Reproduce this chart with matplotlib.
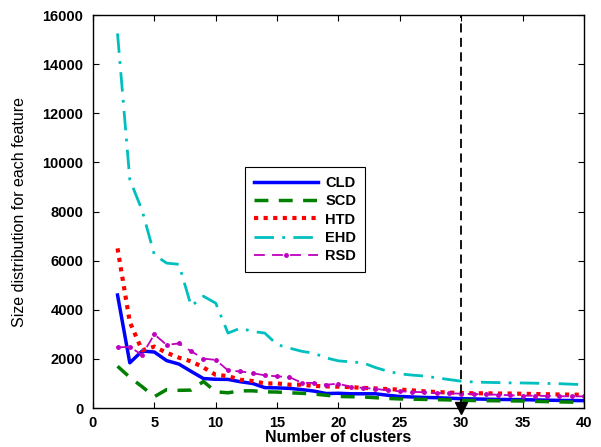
import numpy as np
import matplotlib
matplotlib.use("Agg")
import matplotlib.pyplot as plt

# number of clusters
clusters = list(range(2, 41))

cld = [4600, 1840, 2320, 2280, 1930, 1790, 1490, 1200, 1170, 1165, 1070, 1000, 830, 820,
       800, 750, 690, 590, 600, 580, 580, 580, 520, 470, 450, 430, 420, 400, 380, 370,
       360, 350, 345, 340, 330, 320, 310, 305, 300]
scd = [1700, 1250, 870, 460, 750, 720, 730, 1080, 660, 620, 700, 700, 660, 650,
       620, 600, 570, 520, 470, 460, 450, 420, 390, 370, 360, 350, 340, 330, 310, 305,
       300, 295, 290, 285, 270, 260, 250, 240, 230]
htd = [6500, 3500, 2350, 2500, 2250, 2050, 1900, 1650, 1350, 1300, 1150, 1100, 1000, 1000,
       950, 950, 900, 880, 870, 850, 820, 800, 770, 750, 720, 680, 650, 630, 610, 600,
       600, 590, 590, 580, 570, 560, 550, 545, 540]
ehd = [15250, 9300, 8050, 6240, 5900, 5850, 4150, 4550, 4270, 3050, 3250, 3120, 3050, 2580,
       2440, 2310, 2230, 2040, 1920, 1880, 1840, 1650, 1500, 1390, 1340, 1300, 1230, 1160, 1090, 1060,
       1045, 1035, 1025, 1020, 1010, 1000, 990, 970, 950]
rsd = [2470, 2490, 2160, 3000, 2570, 2630, 2310, 2010, 1960, 1530, 1490, 1420, 1330, 1290,
       1260, 1030, 1020, 950, 990, 860, 820, 780, 720, 680, 660, 640, 610, 600, 585, 570,
       560, 540, 520, 500, 500, 490, 480, 475, 475]

chosen_k = 30

xticks = list(range(0, 41, 5))
yticks = list(range(0, 16001, 2000))

sans = ["Liberation Sans", "DejaVu Sans"]
tick_font = dict(family=sans, weight="bold", size=10.5)

fig = plt.figure(figsize=(6.01, 4.47), dpi=100)
ax = fig.add_axes([0.1547, 0.0872, 0.817, 0.8792])

ax.plot(clusters, cld, color="#0000ff", lw=2.5, ls="-", label="CLD")
ax.plot(clusters, scd, color="#008000", lw=2.5, ls=(0, (4, 3)), label="SCD")
ax.plot(clusters, htd, color="#ff0000", lw=3, ls=(0, (1, 1.3)), label="HTD")
ax.plot(clusters, ehd, color="#00bfbf", lw=2, ls=(0, (7, 3, 1, 3)), label="EHD")
ax.plot(clusters, rsd, color="#bf00bf", lw=1.3, ls=(0, (6, 4)), marker=".",
        markersize=5, label="RSD")

ax.plot([chosen_k, chosen_k], [0, 16000], color="black", lw=1.3, ls=(0, (5, 3)))
ax.plot([chosen_k], [0], marker="v", color="black", markersize=9, clip_on=False, zorder=5)

ax.set_xlim(0, 40)
ax.set_ylim(0, 16000)
ax.set_xticks(xticks)
ax.set_yticks(yticks)
ax.set_xticklabels([str(t) for t in xticks], fontdict=tick_font)
ax.set_yticklabels([str(t) for t in yticks], fontdict=tick_font)
ax.tick_params(direction="in", top=True, right=True, length=4, width=0.8)
ax.tick_params(axis="x", pad=6)
ax.tick_params(axis="y", pad=7)
for sp in ax.spines.values():
    sp.set_linewidth(1.0)

ax.set_xlabel("Number of clusters", family=sans, weight="bold", size=11.5, labelpad=0)
ax.set_ylabel("Size distribution for each feature",
              family=["Liberation Sans Narrow", "Liberation Sans", "DejaVu Sans"],
              size=11.5, labelpad=11)

leg = ax.legend(loc="lower left", bbox_to_anchor=(0.3096, 0.346), borderaxespad=0,
                handlelength=4.4, prop=dict(family=sans, weight="bold", size=10.5),
                frameon=True, fancybox=False, edgecolor="black", framealpha=1,
                borderpad=0.6, labelspacing=0.3, handletextpad=0.5)
leg.get_frame().set_linewidth(0.8)

fig.savefig("out.png", dpi=100)
